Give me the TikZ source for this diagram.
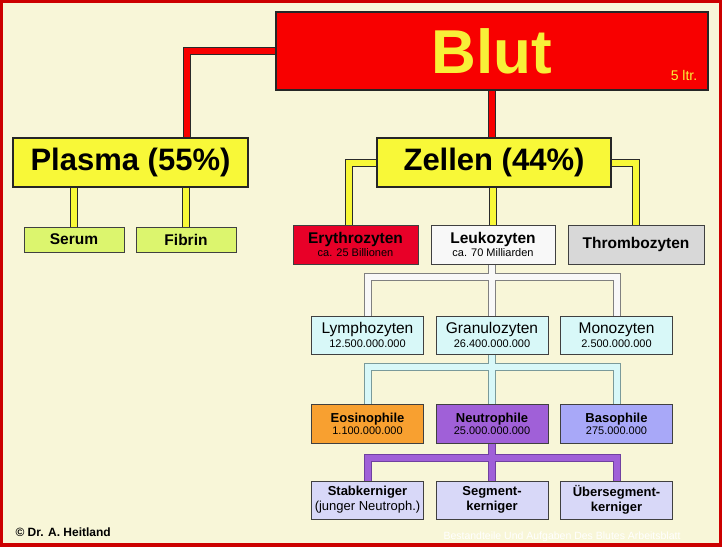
\documentclass[tikz,border=0pt]{standalone}
\usepackage{fontspec}
\setmainfont{Liberation Sans}
\usetikzlibrary{backgrounds}

\definecolor{framered}{HTML}{CC0000}
\definecolor{cream}{HTML}{F8F6D8}
\definecolor{blutred}{HTML}{F80000}
\definecolor{blutyellow}{HTML}{F8F038}
\definecolor{plasmayellow}{HTML}{F8F838}
\definecolor{serumgreen}{HTML}{DCF56E}
\definecolor{eryred}{HTML}{E80028}
\definecolor{leukowhite}{HTML}{F8F8F8}
\definecolor{thrombogray}{HTML}{D8D8D8}
\definecolor{cellcyan}{HTML}{D8F8F8}
\definecolor{eosorange}{HTML}{F8A030}
\definecolor{neutropurple}{HTML}{A060D8}
\definecolor{basoblue}{HTML}{A8A8F8}
\definecolor{kernlilac}{HTML}{D8D8F8}
\definecolor{boxline}{HTML}{404040}
\definecolor{pipedark}{HTML}{2A2A2A}
\definecolor{pipegray}{HTML}{808080}
\definecolor{pipecyan}{HTML}{7A9A9A}
\definecolor{pipepurple}{HTML}{7040A0}

\newcommand{\pxsize}[1]{\fontsize{#1}{#1}\selectfont}

\tikzset{
  box/.style={draw=boxline, line width=1pt, inner sep=0pt, align=center},
  bigbox/.style={box, line width=2pt, draw=black!85, minimum height=49pt,
    fill=plasmayellow, font=\pxsize{31}\bfseries},
  smallbox/.style={box, minimum height=25pt, minimum width=100pt,
    fill=serumgreen, font=\pxsize{15.5}\bfseries},
  cellbox/.style={box, minimum height=39pt, font=\pxsize{15.5}\bfseries},
  rowbox/.style={box, minimum height=38pt, minimum width=112pt},
}

\begin{document}
\begin{tikzpicture}[x=1pt,y=-1pt]
\useasboundingbox (0,0) rectangle (722,547);

% Blut
\node[box, line width=2pt, draw=black!85, fill=blutred, minimum width=432pt,
  minimum height=78pt, text=blutyellow, font=\pxsize{62}\bfseries] (blut) at (492,51) {Blut};
\node[text=blutyellow, font=\pxsize{14}] (ltr) at (684,75) {5 ltr.};

% Plasma and Zellen
\node[bigbox, minimum width=235pt] (plasma) at (130.5,162.5) {Plasma (55\%)};
\node[bigbox, minimum width=234pt] (zellen) at (494,162.5) {Zellen (44\%)};

% Serum and Fibrin
\node[smallbox] (serum) at (74,239.5) {Serum};
\node[smallbox] (fibrin) at (186,239.5) {Fibrin};

% Erythrozyten, Leukozyten, Thrombozyten
\node[cellbox, fill=eryred, minimum width=125pt] (ery) at (355.5,244.5)
  {Erythrozyten\\[-2pt]{\pxsize{11}\mdseries ca. 25 Billionen}};
\node[cellbox, fill=leukowhite, minimum width=124pt] (leuko) at (493,244.5)
  {Leukozyten\\[-2pt]{\pxsize{11}\mdseries ca. 70 Milliarden}};
\node[cellbox, fill=thrombogray, minimum width=136pt] (thrombo) at (636,244.5) {Thrombozyten};

% Lymphozyten, Granulozyten, Monozyten
\node[rowbox, fill=cellcyan, font=\pxsize{15.5}] (lympho) at (367.5,335)
  {Lymphozyten\\[-1pt]{\pxsize{11}12.500.000.000}};
\node[rowbox, fill=cellcyan, font=\pxsize{15.5}] (granulo) at (492,335)
  {Granulozyten\\[-1pt]{\pxsize{11}26.400.000.000}};
\node[rowbox, fill=cellcyan, font=\pxsize{15.5}] (mono) at (616.5,335)
  {Monozyten\\[-1pt]{\pxsize{11}2.500.000.000}};

% Eosinophile, Neutrophile, Basophile
\node[rowbox, minimum height=39pt, fill=eosorange, font=\pxsize{13}\bfseries] (eos) at (367.5,423.5)
  {Eosinophile\\[-1pt]{\pxsize{11}\mdseries 1.100.000.000}};
\node[rowbox, minimum height=39pt, fill=neutropurple, font=\pxsize{13}\bfseries] (neutro) at (492,423.5)
  {Neutrophile\\[-1pt]{\pxsize{11}\mdseries 25.000.000.000}};
\node[rowbox, minimum height=39pt, fill=basoblue, font=\pxsize{13}\bfseries] (baso) at (616.5,423.5)
  {Basophile\\[-1pt]{\pxsize{11}\mdseries 275.000.000}};

% Stabkerniger, Segmentkerniger, Uebersegmentkerniger
\node[rowbox, fill=kernlilac, font=\pxsize{13}\bfseries] (stab) at (367.5,500)
  {Stabkerniger\\[2pt]{\mdseries (junger Neutroph.)}};
\node[rowbox, fill=kernlilac, font=\pxsize{13}\bfseries] (segment) at (492,500)
  {Segment-\\[2pt]kerniger};
\node[rowbox, fill=kernlilac, font=\pxsize{13}\bfseries] (ueber) at (616.5,500)
  {Übersegment-\\[2pt]kerniger};

% Joints of the branching pipes
\coordinate (wjoin) at (492,277);
\coordinate (cjoin) at (492,367);
\coordinate (pjoin) at (492,458);

\begin{scope}[on background layer]
% Frame and background
\fill[framered] (0,0) rectangle (722,547);
\fill[cream] (3,3) rectangle (719,543);

% Red pipes
\foreach \w/\c in {8pt/pipedark, 6pt/blutred} {
  \draw[line width=\w, \c] (blut.west) -| ([xshift=56pt]plasma.north);
  \draw[line width=\w, \c] (blut.south) -- (blut.south |- zellen.north);
}

% Yellow pipes
\foreach \w/\c in {8pt/pipedark, 6pt/plasmayellow} {
  \draw[line width=\w, \c] (zellen.west) -| ([xshift=-7pt]ery.north);
  \draw[line width=\w, \c] (zellen.east) -| (thrombo.north);
  \draw[line width=\w, \c] (leuko.north |- zellen.south) -- (leuko.north);
  \draw[line width=\w, \c] (serum.north |- plasma.south) -- (serum.north);
  \draw[line width=\w, \c] (fibrin.north |- plasma.south) -- (fibrin.north);
}

% White pipes
\foreach \w/\c in {8pt/pipegray, 6pt/leukowhite} {
  \draw[line width=\w, \c] (granulo.north |- leuko.south) -- (granulo.north);
  \draw[line width=\w, \c] (lympho.north) |- (wjoin) -| (mono.north);
}

% Cyan pipes
\foreach \w/\c in {8pt/pipecyan, 6pt/cellcyan} {
  \draw[line width=\w, \c] (granulo.south) -- (neutro.north);
  \draw[line width=\w, \c] (eos.north) |- (cjoin) -| (baso.north);
}

% Purple pipes
\foreach \w/\c in {8pt/pipepurple, 6pt/neutropurple} {
  \draw[line width=\w, \c] (neutro.south) -- (segment.north);
  \draw[line width=\w, \c] (stab.north) |- (pjoin) -| (ueber.north);
}
\end{scope}

% Copyright and caption
\node[anchor=west, font=\pxsize{12}\bfseries] (copy) at (12,532) {© Dr. A. Heitland};
\node[anchor=west, text=white, font=\pxsize{10.5}] (mark) at (440,537)
  {Bestandteile Und Aufgaben Des Blutes Arbeitsblatt};
\end{tikzpicture}
\end{document}
